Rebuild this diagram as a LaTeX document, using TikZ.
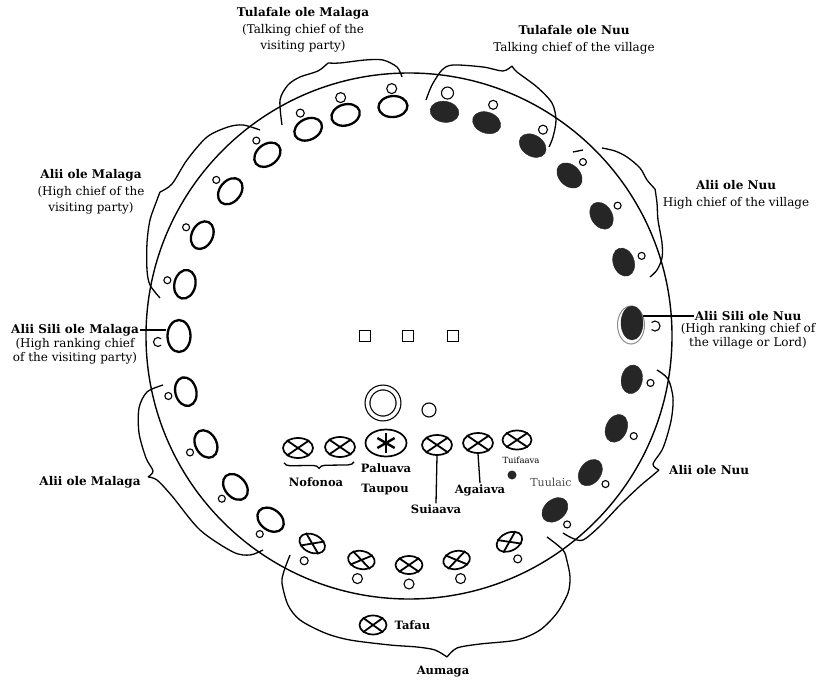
\documentclass[tikz,border=0pt]{standalone}
\usepackage{fontspec}
\setmainfont{DejaVu Serif}
\usepackage{tikz}
\usetikzlibrary{calc, shapes.geometric, positioning, decorations.pathreplacing}

\tikzset{
  guest/.style={ellipse, draw, line width=2.3pt, minimum width=29pt, minimum height=21pt, inner sep=0pt},
  host/.style={ellipse, draw=black!85, fill=black!85, minimum width=29pt, minimum height=21pt, inner sep=0pt},
  youth/.style={ellipse, draw, line width=1.7pt, minimum width=27pt, minimum height=18pt, inner sep=0pt},
  mat/.style={circle, draw, line width=1.1pt, inner sep=0pt},
  post/.style={rectangle, draw, line width=1.8pt, minimum size=11pt, inner sep=0pt},
  arm/.style={line width=1.3pt},
  lbl/.style={align=center, inner sep=1pt, font=\fontsize{12}{16.5}\selectfont},
  nm/.style={inner sep=1pt, font=\bfseries\fontsize{11.5}{13}\selectfont},
}
\newcommand{\xseat}[1]{\draw[line width=1.8pt] (#1.north west) -- (#1.south east) (#1.north east) -- (#1.south west);}

\begin{document}
\begin{tikzpicture}[x=1pt, y=1pt]
\useasboundingbox (0,0) rectangle (826,683);
\coordinate (C) at (409,347);
\draw[line width=1.4pt] (C) circle[radius=263];

% visiting party (left)
\foreach \a/\s [count=\i] in {94/10pt,106/10pt,116/8pt,128/7pt,141/7pt,154/7pt,167/7pt,194/7pt,208/7pt,221/7pt,233/7pt} {
  \node[guest, rotate=\a-90] (g\i) at ($(C)+(\a:230)$) {};
  \node[mat, minimum size=\s] (gm\i) at ($(C)+(\a:248)$) {};
}
\node[guest, minimum width=23pt, minimum height=32pt] (gs) at ($(C)+(180:230)$) {};
\draw[line width=1.1pt] (161.2,344.2) arc[start angle=45, end angle=315, radius=4.5];

% village (right)
\foreach \a/\s [count=\i] in {81/12pt,70/9pt,57/9pt,45/7pt,32/7pt,19/7pt,-11/7pt,-24/7pt,-37/7pt,-50/7pt} {
  \node[host, rotate=\a-90] (h\i) at ($(C)+(\a:227)$) {};
  \node[mat, minimum size=\s] (hm\i) at ($(C)+(\a:246)$) {};
}
\node[ellipse, draw=black!45, line width=1pt, minimum width=27pt, minimum height=38pt, inner sep=0pt] (hr) at (631,358) {};
\node[host, minimum width=22pt, minimum height=34pt] (hs) at (632,360) {};
\draw[line width=1.1pt] (651.5,360.5) arc[start angle=135, end angle=-135, radius=5];

% aumaga (bottom)
\foreach \a/\s [count=\i] in {245/8pt,258/10pt,270/10pt,282/10pt,296/8pt} {
  \node[youth, rotate=\a+90] (y\i) at ($(C)+(\a:229)$) {};
  \xseat{y\i}
  \node[mat, minimum size=\s] (ym\i) at ($(C)+(\a:248)$) {};
}

% centre
\node[post] (p1) at (365,347) {};
\node[post] (p2) at (408,347) {};
\node[post] (p3) at (453,347) {};
\node[circle, draw, line width=1.2pt, double, double distance=3.6pt, minimum size=31pt, inner sep=0pt] (tp) at (383,280) {};
\node[mat, minimum size=14pt] (tm) at (429,273) {};

\node[youth, minimum width=30pt, minimum height=20pt] (no1) at (298,235) {};
\node[youth, minimum width=30pt, minimum height=20pt] (no2) at (340,236) {};
\node[youth, minimum width=41pt, minimum height=27pt] (pa) at (386,240) {};
\node[youth, minimum width=30pt, minimum height=20pt] (su) at (437,238) {};
\node[youth, minimum width=30pt, minimum height=20pt] (ag) at (478,240) {};
\node[youth, minimum width=29pt, minimum height=19pt] (tu) at (517,243) {};
\xseat{no1} \xseat{no2} \xseat{su} \xseat{ag} \xseat{tu}
\foreach \t in {90,30,150}
  \draw[line width=2.4pt] ([shift={(\t:10)}]pa.center) -- ([shift={(\t+180:10)}]pa.center);
\draw[arm, decorate, decoration={brace, mirror, amplitude=6pt}]
  ([xshift=-14pt, yshift=-4pt]no1.south) -- ([xshift=14pt, yshift=-4pt]no2.south);

\node[nm] (noL) at (316,201) {Nofonoa};
\node[nm] (paL) at (386,215) {Paluava};
\node[nm] (tauL) at (385,193) {Taupou};
\node[nm] (suL) at (436,174) {Suiaava};
\node[nm] (agL) at (480,193) {Agaiava};
\draw[line width=1.3pt] (su.south) -- (suL.north);
\draw[line width=1.3pt] (ag.south) -- (agL.north);

\node[inner sep=0pt, font=\fontsize{8.5}{10}\selectfont] (tuL) at (521,223) {Tuifaava};
\node[circle, fill=black!85, minimum size=9pt, inner sep=0pt] (tuD) at (512,208) {};
\node[inner sep=0pt, font=\fontsize{11}{12}\selectfont, text=black!70] (tuX) at (551,201) {Tuulaic};

\node[youth, minimum width=27pt, minimum height=19pt] (ta) at (373,58) {};
\xseat{ta}
\node[nm, right=6pt of ta] (taL) {Tafau};

% braces
\draw[arm] plot[smooth] coordinates {(282,558) (280,583) (288,598) (300,606) (318,612) (328,620)}
           plot[smooth] coordinates {(328,620) (340,620) (365,623) (383,623) (397,616) (402,606)};
\draw[arm] plot[smooth] coordinates {(426,583) (432,598) (442,613) (453,618) (483,616) (503,612) (512,617)}
           plot[smooth] coordinates {(512,617) (517,611) (537,596) (552,580) (556,563) (553,546) (549,536)};
\draw[arm] plot[smooth] coordinates {(260,553) (243,558) (228,556) (207,546) (187,523) (172,499) (160,491)}
           plot[smooth] coordinates {(160,491) (157,483) (150,463) (147,440) (147,413) (150,398) (160,385)};
\draw[arm] (573,531) -- (583,533)
           plot[smooth] coordinates {(602,535) (615,532) (627,526) (640,515) (647,503) (655,494)}
           plot[smooth] coordinates {(655,494) (657,480) (658,463) (662,440) (662,425) (657,413) (650,406)};
\draw[arm] plot[smooth] coordinates {(163,298) (147,291) (139,275) (139,250) (146,225) (153,212) (148,206)}
           plot[smooth] coordinates {(148,206) (157,203) (172,187) (200,153) (233,131) (250,128) (263,133)};
\draw[arm] plot[smooth] coordinates {(657,313) (668,304) (673,285) (671,262) (663,235) (653,219) (659,213)}
           plot[smooth] coordinates {(659,213) (652,207) (640,197) (620,178) (600,157) (583,143) (572,145) (563,150)};
\draw[arm] plot[smooth] coordinates {(290,128) (284,112) (282,100) (288,78) (300,63) (325,50) (350,43) (390,38) (417,36) (435,33) (447,26)}
           plot[smooth] coordinates {(447,26) (457,35) (480,39) (517,43) (540,53) (557,70) (568,90) (570,106) (567,122) (563,133) (547,146)};

% labels
\node[lbl] (tmL) at (303,653) {\textbf{Tulafale ole Malaga}\\(Talking chief of the\\visiting party)};
\node[lbl] (tnL) at (574,643) {\textbf{Tulafale ole Nuu}\\Talking chief of the village};
\node[lbl] (amL) at (91,491) {\textbf{Alii ole Malaga}\\(High chief of the\\visiting party)};
\node[lbl] (anL) at (736,488) {\textbf{Alii ole Nuu}\\High chief of the village};
\node[nm, font=\bfseries\fontsize{12}{13}\selectfont] (smT) at (75,353) {Alii Sili ole Malaga};
\node[lbl, font=\fontsize{12}{14.5}\selectfont, below=0pt of smT] (smD) {(High ranking chief\\of the visiting party)};
\draw[line width=1.2pt] (smT.east) -- (smT.east -| gs.west);
\node[nm, font=\bfseries\fontsize{12}{13}\selectfont] (snT) at (748,367) {Alii Sili ole Nuu};
\node[lbl, font=\fontsize{12}{14.5}\selectfont, below=0pt of snT] (snD) {(High ranking chief of\\the village or Lord)};
\draw[line width=1.2pt] (snT.west) -- (snT.west -| hs.east);
\node[nm, font=\bfseries\fontsize{12}{13}\selectfont] (amL2) at (90,201) {Alii ole Malaga};
\node[nm, font=\bfseries\fontsize{12}{13}\selectfont, anchor=west] (anL2) at (668,213) {Alii ole Nuu};
\node[nm] (auL) at (443,11) {Aumaga};
\end{tikzpicture}
\end{document}
